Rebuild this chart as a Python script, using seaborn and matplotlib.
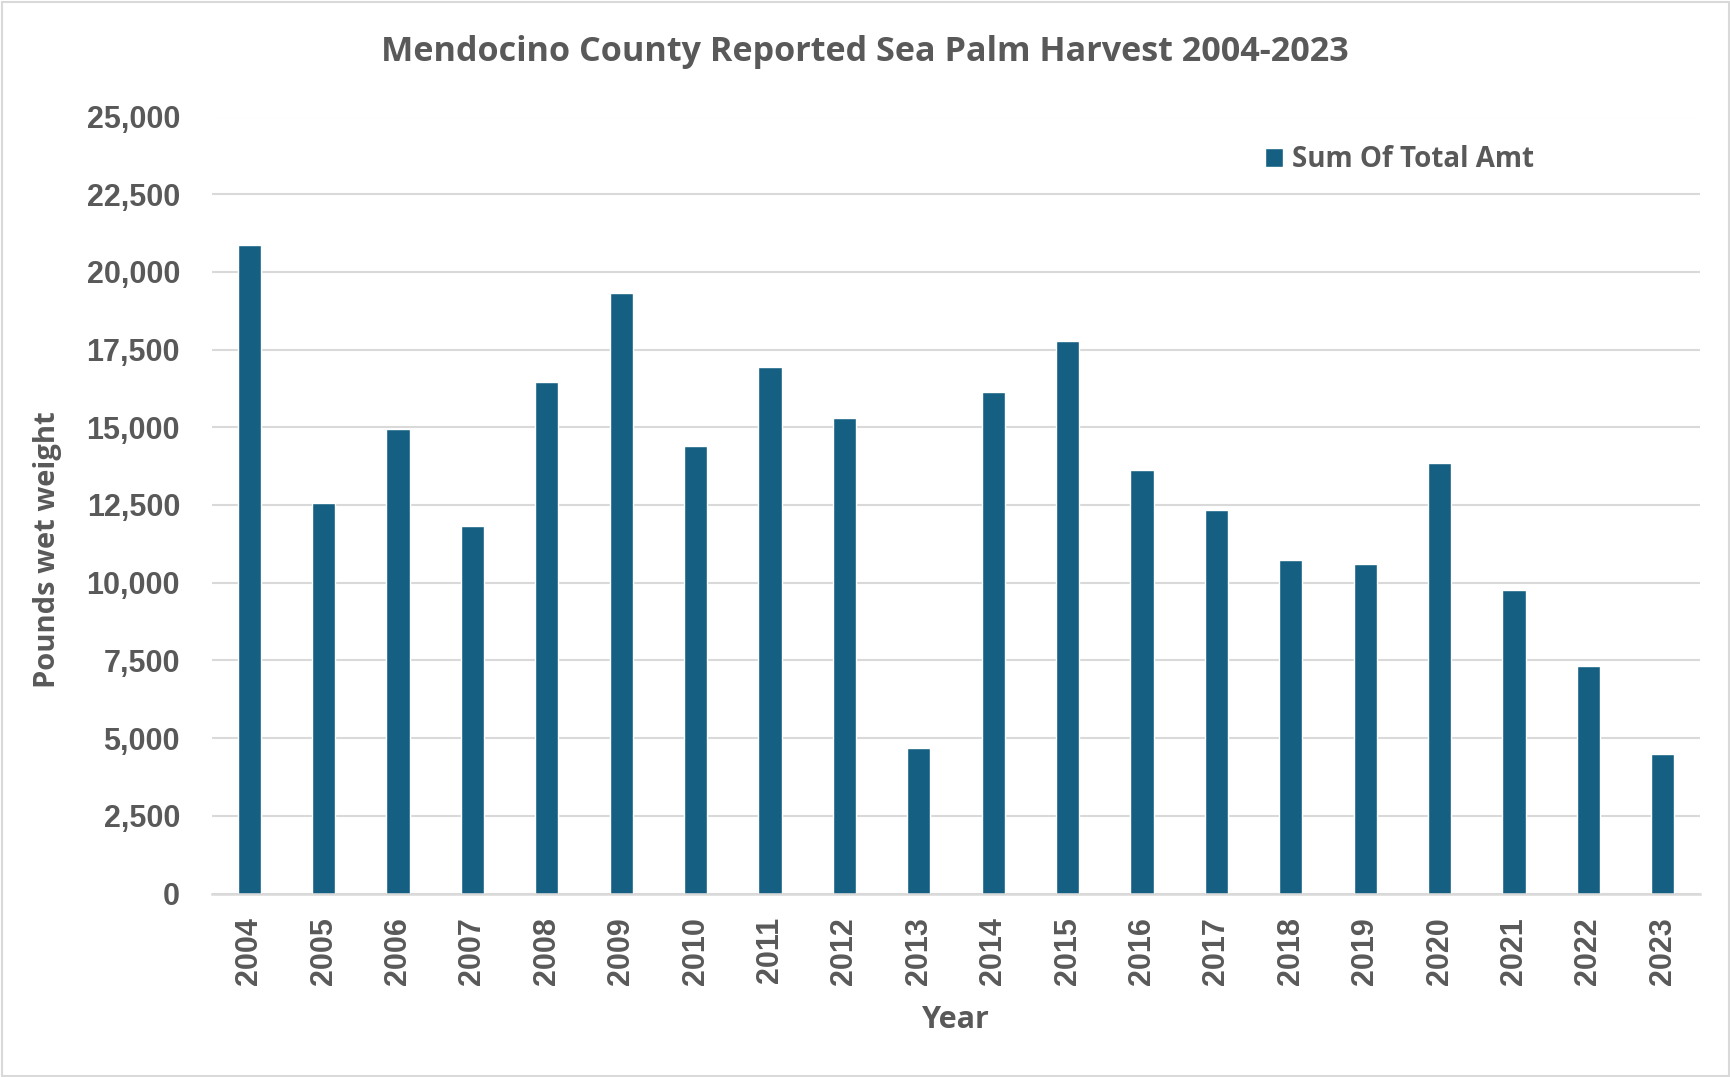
import matplotlib
matplotlib.use("Agg")
import matplotlib.pyplot as plt
from matplotlib.patches import Rectangle
from matplotlib.ticker import FuncFormatter
import seaborn as sns
import pandas as pd

# Reported sea palm harvest, Mendocino County (pounds wet weight)
years = ["2004", "2005", "2006", "2007", "2008", "2009", "2010", "2011", "2012", "2013",
         "2014", "2015", "2016", "2017", "2018", "2019", "2020", "2021", "2022", "2023"]
pounds = [20860, 12580, 14950, 11810, 16450, 19310, 14400, 16950, 15310, 4680,
          16140, 17780, 13630, 12350, 10730, 10590, 13860, 9780, 7320, 4500]
series_name = "Sum Of Total Amt"
y_ticks = [0, 2500, 5000, 7500, 10000, 12500, 15000, 17500, 20000, 22500, 25000]

df = pd.DataFrame({"Year": years, "Pounds": pounds})

BAR = "#156082"
TEXT = "#595959"
GRID = "#D9D9D9"
HEAD_FONT = ["Open Sans", "DejaVu Sans"]
TICK_FONT = ["Liberation Sans", "DejaVu Sans"]

sns.set_theme(style="white")
plt.rcParams["font.family"] = HEAD_FONT

W, H = 1730, 1077
fig = plt.figure(figsize=(W / 100, H / 100), dpi=100)
ax = fig.add_axes([212 / W, 1 - 893.5 / H, 1488 / W, 777 / H])

sns.barplot(data=df, x="Year", y="Pounds", color=BAR, saturation=1, width=0.31,
            label=series_name, ax=ax, zorder=3)

ax.set_ylim(0, 25000)
ax.set_xlim(-0.5, len(years) - 0.5)
ax.set_yticks(y_ticks)
ax.yaxis.set_major_formatter(FuncFormatter(lambda v, p: f"{int(v):,}"))
ax.grid(axis="y", color=GRID, linewidth=1.5, zorder=0)
ax.grid(axis="x", visible=False)
for s in ["top", "right", "left"]:
    ax.spines[s].set_visible(False)
ax.spines["bottom"].set_color(GRID)
ax.spines["bottom"].set_linewidth(1.8)
ax.spines["bottom"].set_zorder(4)

ax.tick_params(axis="y", length=0, pad=23, labelsize=22, labelcolor=TEXT)
ax.tick_params(axis="x", length=0, pad=17, labelsize=22, labelcolor=TEXT, labelrotation=90)
for lab in ax.get_xticklabels() + ax.get_yticklabels():
    lab.set_fontfamily(TICK_FONT)
    lab.set_fontweight("bold")

ax.set_xlabel("Year", fontsize=22, fontweight="bold", color=TEXT)
ax.xaxis.label.set_va("baseline")
ax.xaxis.set_label_coords(0.5, (893.5 - 1028) / 777)
ax.set_ylabel("Pounds wet weight", fontsize=21, fontweight="bold", color=TEXT)
ax.yaxis.label.set_va("center")
ax.yaxis.set_label_coords((48 - 212) / 1488, (893.5 - 550) / 777)

fig.text(865 / W, 1 - 61 / H, "Mendocino County Reported Sea Palm Harvest 2004-2023",
         ha="center", va="baseline", fontsize=24.6, fontweight="bold", color=TEXT)

leg = ax.legend(loc="upper left", bbox_to_anchor=(1265 / W, 1 - 145 / H),
                bbox_transform=fig.transFigure, frameon=False, fontsize=20,
                borderpad=0, borderaxespad=0, handlelength=0.65, handleheight=0.65,
                handletextpad=0.33)
for t in leg.get_texts():
    t.set_color(TEXT)
    t.set_fontweight("bold")

fig.patches.append(Rectangle((1.5 / W, 1.5 / H), 1 - 3 / W, 1 - 3 / H,
                             transform=fig.transFigure, fill=False,
                             edgecolor=GRID, linewidth=1.5))

fig.savefig("out.png", dpi=100, facecolor="white")
